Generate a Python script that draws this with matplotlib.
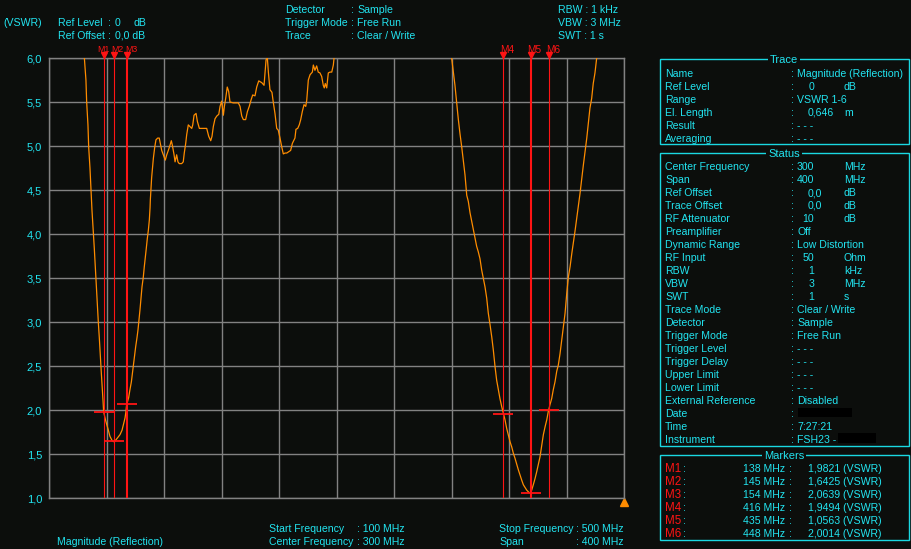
import matplotlib
matplotlib.use('Agg')
import matplotlib.pyplot as plt
import matplotlib.transforms as mtransforms
from matplotlib.patches import Rectangle
from matplotlib import font_manager as fm

# ---------------- data ----------------
freq = [100, 110, 118, 122, 124.6, 125.7, 126.2, 127.1, 127.6, 128.5, 129.2, 129.9, 130.8,
        131.5, 132.2, 132.9, 133.6, 134.3, 135.0, 135.7, 136.4, 137.1, 137.6, 138.0, 138.7,
        139.4, 140.3, 141.3, 142.4, 144.0, 145.0, 146.0, 147.5, 149.4, 150.8, 151.7, 152.9,
        153.5, 154.0, 155.4, 156.3, 157.3, 158.2, 158.9, 159.6, 160.3, 161.2, 161.9, 162.6,
        163.3, 164.0, 164.7, 165.6, 166.3, 167.0, 167.7, 168.4, 169.1, 169.8, 170.3, 170.5,
        171.4, 172.6, 173.5, 174.4, 175.6, 176.7, 177.2, 178.4, 179.5, 180.9, 181.9, 183.0,
        184.2, 185.1, 185.8, 187.0, 187.7, 188.8, 189.7, 190.6, 192.3, 193.4, 194.1, 195.1,
        195.8, 196.9, 198.1, 199.3, 200.0, 200.9, 202.3, 203.2, 204.6, 206.2, 209.7, 211.1,
        212.5, 213.4, 214.3, 215.5, 216.7, 218.1, 219.0, 220.1, 221.3, 222.0, 222.9, 224.0,
        225.0, 225.9, 228.2, 231.7, 232.9, 234.1, 235.2, 236.8, 238.0, 239.3, 240.5, 241.7,
        243.3, 244.5, 245.9, 248.0, 249.6, 251.0, 251.9, 252.6, 253.7, 255.1, 256.0, 257.2,
        258.4, 259.5, 260.7, 261.9, 263.0, 264.2, 265.4, 267.2, 268.1, 269.3, 271.1, 271.8,
        273.0, 274.1, 275.1, 276.2, 277.4, 278.6, 279.3, 280.4, 281.6, 283.2, 283.9, 285.0,
        286.2, 287.3, 288.5, 289.7, 290.8, 291.5, 292.2, 293.2, 294.3, 295.5, 296.7, 297.8,
        298.3, 305, 330, 350, 370, 377,
        380.1, 381.3, 382.4, 383.6, 384.7, 385.9, 387.1, 388.2, 389.4, 390.6, 391.7, 392.9,
        394.1, 395.2, 396.4, 397.5, 398.6, 399.8, 401.0, 402.1, 403.3, 404.5, 405.6, 406.8,
        408.0, 409.1, 410.3, 411.4, 412.6, 413.7, 414.9, 416.1, 417.2, 418.4, 419.5, 420.7,
        421.9, 423.0, 424.2, 425.4, 426.5, 427.7, 428.9, 430.0, 432.3, 434.1, 435.0, 435.8,
        436.9, 438.1, 439.3, 440.4, 441.6, 442.8, 443.9, 445.1, 446.3, 447.3, 448.5, 449.7,
        450.8, 452.0, 453.2, 454.3, 455.5, 456.7, 457.8, 459.0, 460.2, 461.3, 462.5, 463.7,
        464.7, 465.9, 467.1, 468.2, 469.4, 470.6, 471.7, 472.9, 474.1, 475.2, 476.3, 477.5,
        478.6, 479.8, 481.0, 490, 500]
vswr = [8.5, 7.6, 6.8, 6.3, 6.00, 5.75, 5.50, 5.24, 4.99, 4.75, 4.50, 4.27, 4.03,
        3.84, 3.63, 3.40, 3.19, 3.00, 2.82, 2.61, 2.42, 2.24, 2.10, 1.98, 1.93,
        1.88, 1.83, 1.77, 1.70, 1.65, 1.64, 1.65, 1.68, 1.72, 1.77, 1.83, 1.91,
        1.98, 2.06, 2.14, 2.23, 2.32, 2.44, 2.53, 2.62, 2.72, 2.82, 2.91, 3.02,
        3.14, 3.27, 3.40, 3.51, 3.63, 3.73, 3.84, 3.95, 4.04, 4.16, 4.30, 4.39,
        4.64, 4.86, 4.98, 5.07, 5.09, 5.09, 5.05, 4.95, 4.90, 4.84, 4.90, 4.95,
        5.01, 5.06, 5.01, 4.90, 4.82, 4.90, 4.82, 4.80, 4.80, 4.82, 4.92, 5.03,
        5.13, 5.24, 5.22, 5.20, 5.24, 5.35, 5.37, 5.28, 5.20, 5.20, 5.20, 5.11,
        5.06, 5.11, 5.22, 5.31, 5.34, 5.36, 5.45, 5.51, 5.35, 5.45, 5.54, 5.67,
        5.62, 5.50, 5.49, 5.49, 5.45, 5.34, 5.30, 5.30, 5.39, 5.45, 5.52, 5.58,
        5.57, 5.67, 5.74, 5.72, 5.69, 5.98, 6.00, 5.84, 5.64, 5.61, 5.50, 5.37,
        5.20, 5.18, 5.09, 4.99, 4.91, 4.92, 4.92, 4.94, 4.95, 5.03, 5.09, 5.19,
        5.20, 5.24, 5.30, 5.39, 5.47, 5.45, 5.52, 5.75, 5.81, 5.84, 5.92, 5.86,
        5.91, 5.84, 5.83, 5.79, 5.69, 5.66, 5.71, 5.66, 5.83, 5.84, 5.84, 5.92,
        6.00, 6.6, 7.4, 7.6, 6.9, 6.3,
        6.00, 5.84, 5.69, 5.49, 5.31, 5.14, 4.99, 4.84, 4.67, 4.44, 4.37, 4.24,
        4.14, 4.05, 3.95, 3.86, 3.80, 3.72, 3.59, 3.50, 3.40, 3.27, 3.10, 2.97,
        2.83, 2.68, 2.49, 2.34, 2.23, 2.13, 2.04, 1.96, 1.89, 1.79, 1.72, 1.64,
        1.58, 1.51, 1.45, 1.38, 1.32, 1.26, 1.20, 1.15, 1.09, 1.06, 1.06, 1.09,
        1.15, 1.22, 1.30, 1.38, 1.47, 1.60, 1.72, 1.81, 1.89, 1.98, 2.06, 2.13,
        2.23, 2.32, 2.44, 2.51, 2.64, 2.80, 2.95, 3.10, 3.33, 3.51, 3.63, 3.78,
        3.89, 4.03, 4.18, 4.31, 4.46, 4.63, 4.78, 4.94, 5.09, 5.26, 5.43, 5.54,
        5.71, 5.83, 6.00, 7.0, 7.8]

marker_names = ['M1', 'M2', 'M3', 'M4', 'M5', 'M6']
marker_freq = [138, 145, 154, 416, 435, 448]
marker_vswr = [1.9821, 1.6425, 2.0639, 1.9494, 1.0563, 2.0014]
marker_active = [False, False, True, False, True, False]

x_ticks = [100, 140, 180, 220, 260, 300, 340, 380, 420, 460, 500]
y_ticks = [1.0, 1.5, 2.0, 2.5, 3.0, 3.5, 4.0, 4.5, 5.0, 5.5, 6.0]
y_tick_labels = ['1,0', '1,5', '2,0', '2,5', '3,0', '3,5', '4,0', '4,5', '5,0', '5,5', '6,0']

trace_labels = ['Name', 'Ref Level', 'Range', 'El. Length', 'Result', 'Averaging']
trace_values = ['Magnitude (Reflection)', '0', 'VSWR 1-6', '0,646', '- - -', '- - -']
trace_units = ['', 'dB', '', 'm', '', '']

status_labels = ['Center Frequency', 'Span', 'Ref Offset', 'Trace Offset', 'RF Attenuator',
                 'Preamplifier', 'Dynamic Range', 'RF Input', 'RBW', 'VBW', 'SWT',
                 'Trace Mode', 'Detector', 'Trigger Mode', 'Trigger Level', 'Trigger Delay',
                 'Upper Limit', 'Lower Limit', 'External Reference', 'Date', 'Time', 'Instrument']
status_values = ['300', '400', '0,0', '0,0', '10', 'Off', 'Low Distortion', '50', '1', '3', '1',
                 'Clear / Write', 'Sample', 'Free Run', '- - -', '- - -', '- - -', '- - -',
                 'Disabled', '', '7:27:21', 'FSH23 -']
status_units = ['MHz', 'MHz', 'dB', 'dB', 'dB', '', '', 'Ohm', 'kHz', 'MHz', 's',
                '', '', '', '', '', '', '', '', '', '', '']
status_numeric = [False, False, True, True, True, False, False, True, True, True, True,
                  False, False, False, False, False, False, False, False, False, False, False]

# ---------------- style ----------------
W, H = 911, 549
BG = '#0c0e0c'
CYAN = '#22e4f0'
BORDER = '#1ad8e2'
GRID = '#828282'
ORANGE = '#ff8c00'
RED = '#ff1414'

names = {f.name for f in fm.fontManager.ttflist}
if 'Liberation Sans Narrow' in names:
    FONT, FS = 'Liberation Sans Narrow', 9.2
else:
    FONT, FS = 'Liberation Sans', 7.6
plt.rcParams['font.family'] = [FONT, 'DejaVu Sans']

fig = plt.figure(figsize=(W / 100, H / 100), dpi=100, facecolor=BG)

# main plot
ax = fig.add_axes([49 / W, 51 / H, 575 / W, 440 / H])
ax.set_facecolor(BG)
ax.set_xlim(100, 500)
ax.set_ylim(1, 6)
ax.set_xticks(x_ticks)
ax.set_xticklabels([])
ax.set_yticks(y_ticks)
ax.set_yticklabels(y_tick_labels, color=CYAN, fontsize=FS + 0.4)
ax.tick_params(length=0, pad=5)
ax.grid(True, color=GRID, lw=1.0)
for s in ax.spines.values():
    s.set_color(GRID)
    s.set_linewidth(1.0)

ax.plot(freq, vswr, color=ORANGE, lw=0.9, zorder=3)

trans = mtransforms.blended_transform_factory(ax.transData, ax.transAxes)
label_shift = [-6, -2, -1, -3, -3, -3]
label_size = [6.3, 6.3, 6.3, 7.2, 7.2, 7.2]
for name, f, act, dx, ls in zip(marker_names, marker_freq, marker_active, label_shift, label_size):
    ax.axvline(f, color=RED, lw=1.5 if act else 0.8, zorder=4)
    lab_tr = mtransforms.offset_copy(trans, fig=fig, x=dx, y=0, units='dots')
    ax.text(f, 1.0185, name, transform=lab_tr, color=RED, fontsize=ls,
            ha='left', va='center', clip_on=False)
ax.plot(marker_freq, [1.006] * len(marker_freq), ls='none', marker='v', ms=4.5,
        color=RED, transform=trans, clip_on=False, zorder=6)
ax.plot(marker_freq, marker_vswr, ls='none', marker='_', ms=14, mew=1.3,
        color=RED, zorder=5)
ax.plot([500], [-0.008], ls='none', marker='^', ms=6, color=ORANGE,
        transform=trans, clip_on=False)

# overlay in pixel coordinates for texts and panels
ov = fig.add_axes([0, 0, 1, 1], zorder=10)
ov.set_xlim(0, W)
ov.set_ylim(H, 0)
ov.axis('off')
ov.patch.set_alpha(0)


def t(x, y, s, color=CYAN, ha='left', fs=FS):
    ov.text(x, y, s, color=color, ha=ha, va='baseline', fontsize=fs)


# header
t(3, 26.3, '(VSWR)')
t(58, 26, 'Ref Level')
t(108, 26, ':')
t(115, 26, '0')
t(133, 26, 'dB')
t(58, 38.7, 'Ref Offset')
t(108, 38.7, ':')
t(115, 38.7, '0,0 dB')
hdr_l = ['Detector', 'Trigger Mode', 'Trace']
hdr_v = ['Sample', 'Free Run', 'Clear / Write']
for i, (l, v) in enumerate(zip(hdr_l, hdr_v)):
    y = 12.7 + 13 * i
    t(285, y, l)
    t(351, y, ':')
    t(357, y, v)
for i, s in enumerate(['RBW : 1 kHz', 'VBW : 3 MHz', 'SWT : 1 s']):
    t(558, 12.7 + 13 * i, s)

# bottom
t(57, 545, 'Magnitude (Reflection)')
t(269, 531.5, 'Start Frequency')
t(357, 531.5, ': 100 MHz')
t(269, 545, 'Center Frequency')
t(357, 545, ': 300 MHz')
t(499, 531.5, 'Stop Frequency')
t(576, 531.5, ': 500 MHz')
t(499, 545, 'Span')
t(576, 545, ': 400 MHz')


def panel(y0, y1, title, ty):
    ov.add_patch(Rectangle((660, y0), 248.5, y1 - y0, fill=False, ec=BORDER, lw=1.0))
    ov.text(784, ty, title, color=CYAN, ha='center', va='baseline', fontsize=FS + 0.4,
            bbox=dict(facecolor=BG, edgecolor='none', pad=1.5))


def value(y, v, unit, numeric):
    t(791, y, ':')
    if v:
        if numeric:
            if ',' in v:
                t(808, y, v)
            else:
                t(814, y, v, ha='right')
        else:
            t(797, y, v)
    if unit:
        t(844, y, unit)


panel(59.3, 144, 'Trace', 63)
for i, (l, v, u) in enumerate(zip(trace_labels, trace_values, trace_units)):
    y = 76.7 + 13 * i
    t(665, y, l)
    value(y, v, u, v in ('0', '0,646'))

panel(153.3, 445.7, 'Status', 157)
for i, (l, v, u, n) in enumerate(zip(status_labels, status_values, status_units, status_numeric)):
    y = 170 + 13 * i
    t(665, y, l)
    value(y, v, u, n)
# redacted fields
ov.add_patch(Rectangle((798, 408), 54, 9, color='black', lw=0))
ov.add_patch(Rectangle((838, 433), 38, 10, color='black', lw=0))

panel(455, 540, 'Markers', 459)
for i, (n, f, v) in enumerate(zip(marker_names, marker_freq, marker_vswr)):
    y = 471.7 + 13 * i
    t(665, y, n, color=RED, fs=FS + 0.8)
    t(683, y, ':')
    t(785, y, f'{f} MHz', ha='right')
    t(789, y, ':')
    t(808, y, f'{v:.4f}'.replace('.', ',') + ' (VSWR)')

fig.savefig('out.png', dpi=100, facecolor=BG)
